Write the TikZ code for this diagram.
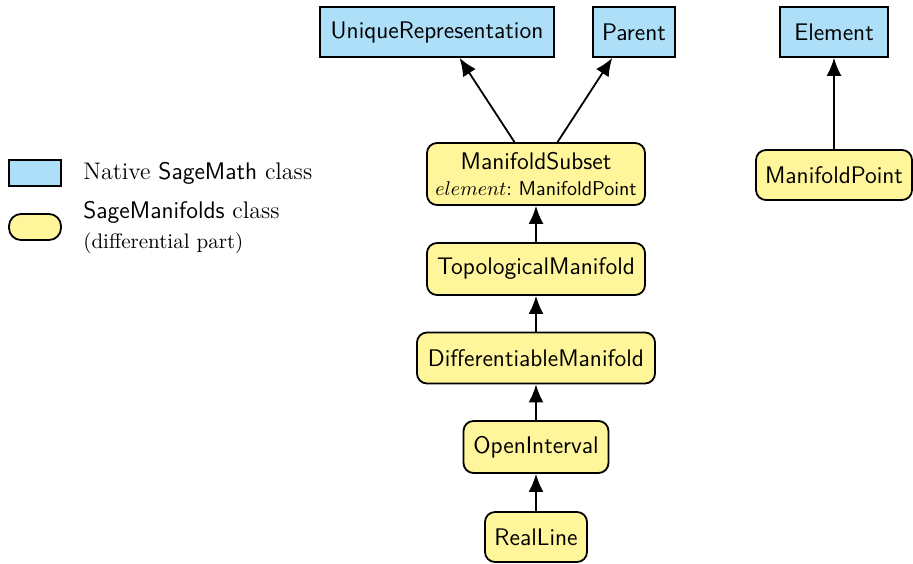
\documentclass[tikz,border=0pt]{standalone}
\usetikzlibrary{arrows.meta}
\definecolor{sageblue}{HTML}{ADDFF9}
\definecolor{manifyellow}{HTML}{FFF59B}
\tikzset{
  native/.style={draw, line width=.9pt, fill=sageblue, inner sep=0pt,
    font=\sffamily\fontsize{12}{14}\selectfont},
  manif/.style={draw, line width=.9pt, fill=manifyellow, rounded corners=5pt,
    inner sep=0pt, font=\sffamily\fontsize{12}{14}\selectfont},
  inherit/.style={line width=.9pt, -{Latex[length=9pt,width=7.5pt]}},
  legtext/.style={anchor=west, inner sep=0pt, font=\fontsize{12}{14}\selectfont}
}
\begin{document}
\begin{tikzpicture}[x=.5pt, y=-.5pt]
    \useasboundingbox (0,0) rectangle (913,563);
    % native classes
    \node[native, minimum width=117pt, minimum height=25pt] (uniq) at (437,32) {UniqueRepresentation};
    \node[native, minimum width=41pt, minimum height=25pt] (parent) at (634,32) {Parent};
    \node[native, minimum width=54pt, minimum height=25pt] (elem) at (834,32) {Element};
    % manifold classes
    \node[manif, minimum width=109pt, minimum height=31pt, align=center] (subset) at (536,174)
        {ManifoldSubset\\[-1pt]{\fontsize{10}{11}\selectfont$element{:}$\ ManifoldPoint}};
    \node[manif, minimum width=109pt, minimum height=26pt] (topman) at (536,269) {TopologicalManifold};
    \node[manif, minimum width=119pt, minimum height=25.5pt] (diffman) at (536,358) {DifferentiableManifold};
    \node[manif, minimum width=72.5pt, minimum height=26pt] (openint) at (536,447) {OpenInterval};
    \node[manif, minimum width=51pt, minimum height=25pt] (realline) at (536,537) {RealLine};
    \node[manif, minimum width=78pt, minimum height=25pt] (point) at (834,175) {ManifoldPoint};
    % inheritance
    \draw[inherit] (subset.124) -- (uniq.311.5);
    \draw[inherit] (subset.56) -- (parent.230);
    \draw[inherit] (topman) -- (subset);
    \draw[inherit] (diffman) -- (topman);
    \draw[inherit] (openint) -- (diffman);
    \draw[inherit] (realline) -- (openint);
    \draw[inherit] (point) -- (elem);
    % legend
    \node[native, minimum width=26pt, minimum height=13pt] (legnative) at (35,173) {};
    \node[manif, minimum width=26pt, minimum height=13pt, rounded corners=6pt] (legmanif) at (35,227) {};
    \node[legtext] (legnativetxt) at (83,173) {Native \textsf{SageMath} class};
    \node[legtext] (legmaniftxt) at (83,212) {\textsf{SageManifolds} class};
    \node[legtext, font=\fontsize{10.5}{12}\selectfont] (legparttxt) at (83,243) {(differential part)};
\end{tikzpicture}
\end{document}
